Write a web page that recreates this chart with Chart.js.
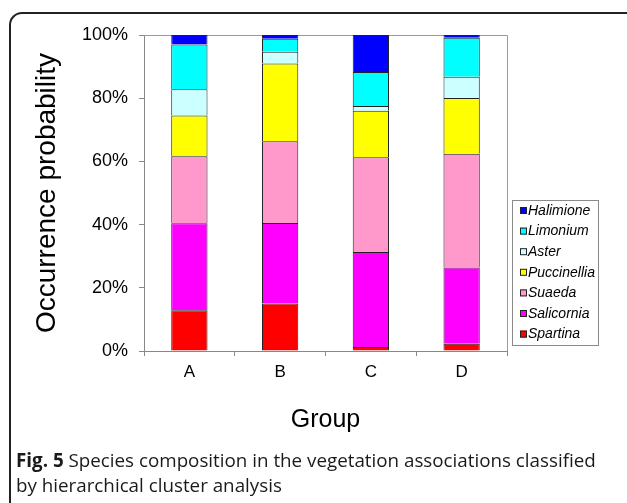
<!DOCTYPE html>
<html>
<head>
<meta charset="utf-8">
<script src="https://cdn.jsdelivr.net/npm/chart.js@4/dist/chart.umd.min.js"></script>
<style>
  html, body { margin: 0; padding: 0; background: #fff; }
  #wrap { position: relative; width: 627px; height: 503px; overflow: hidden; }
  #frame {
    position: absolute; left: 9px; top: 12px; width: 640px; height: 520px;
    border: 2px solid #222; border-radius: 13px; box-sizing: border-box;
  }
  #chart { position: absolute; left: 0; top: 0; }
  #caption {
    position: absolute; left: 16px; top: 448px; width: 596px;
    font-family: 'Open Sans', sans-serif; font-size: 18.8px; line-height: 25px; color: #1a1a1a;
  }
  #caption b { font-weight: 700; }
</style>
</head>
<body>
<div id="wrap">
  <div id="frame"></div>
  <canvas id="chart" width="627" height="503"></canvas>
  <div id="caption"><b>Fig. 5</b> Species composition in the vegetation associations classified by hierarchical cluster analysis</div>
</div>
<script>
// Дані (у відсотках, знизу вгору)
const groups = ['A', 'B', 'C', 'D'];
const species = ['Spartina', 'Salicornia', 'Suaeda', 'Puccinellia', 'Aster', 'Limonium', 'Halimione'];
const spartina    = [12.9, 15.0, 1.3, 2.3];
const salicornia  = [27.5, 25.5, 30.0, 24.1];
const suaeda      = [21.2, 25.9, 30.0, 36.0];
const puccinellia = [12.9, 24.6, 14.7, 17.7];
const aster       = [8.3, 3.7, 1.5, 6.7];
const limonium    = [14.2, 4.1, 10.8, 12.3];
const halimione   = [3.0, 1.2, 11.7, 0.9];
const yTicks = [0, 20, 40, 60, 80, 100];

const seriesValues = [spartina, salicornia, suaeda, puccinellia, aster, limonium, halimione];
const colors = ['#ff0000', '#ff00ff', '#ff99cc', '#ffff00', '#ccffff', '#00ffff', '#0000ff'];

Chart.defaults.font.family = "'Liberation Sans', Arial, sans-serif";
Chart.defaults.color = '#000';

/**
 * Рамка області графіка і легенда в рамці праворуч
 */
const boxLegend = {
    id: 'boxLegend',
    beforeDatasetsDraw(chart) {
        const ctx = chart.ctx;
        const a = chart.chartArea;
        ctx.save();
        ctx.strokeStyle = '#9a9a9a';
        ctx.lineWidth = 1;
        ctx.beginPath();
        ctx.moveTo(a.left, a.top + 0.5);
        ctx.lineTo(a.right + 0.5, a.top + 0.5);
        ctx.lineTo(a.right + 0.5, a.bottom);
        ctx.stroke();
        ctx.restore();
    },
    afterDraw(chart) {
        const ctx = chart.ctx;
        const x = 512, y = 200, w = 86, h = 145;
        ctx.save();
        ctx.strokeStyle = '#8a8a8a';
        ctx.lineWidth = 1;
        ctx.strokeRect(x + 0.5, y + 0.5, w, h);
        ctx.font = "italic 14px 'Liberation Sans', Arial, sans-serif";
        ctx.textBaseline = 'middle';
        const ds = chart.data.datasets.slice().reverse();
        ds.forEach((d, i) => {
            const cy = 210.5 + i * 20.6;
            ctx.fillStyle = d.backgroundColor;
            ctx.fillRect(520, cy - 3.5, 7, 7);
            ctx.strokeStyle = '#222';
            ctx.strokeRect(520.5, cy - 3, 6, 6);
            ctx.fillStyle = '#000';
            ctx.fillText(d.label, 528, cy + 0.5);
        });
        ctx.restore();
    }
};

function initChart() {
    const ctx = document.getElementById('chart').getContext('2d');
    new Chart(ctx, {
        type: 'bar',
        data: {
            labels: groups,
            datasets: species.map((s, i) => ({
                label: s,
                data: seriesValues[i],
                backgroundColor: colors[i],
                borderColor: '#222',
                borderWidth: 1,
                barPercentage: 0.4,
                categoryPercentage: 1
            }))
        },
        options: {
            responsive: false,
            animation: false,
            layout: { padding: { left: 0, top: 35, right: 120, bottom: 62 } },
            plugins: { legend: { display: false }, tooltip: { enabled: false } },
            scales: {
                x: {
                    stacked: true,
                    ticks: { font: { size: 17 }, padding: 6 },
                    grid: { drawOnChartArea: false, tickLength: 5, color: '#888', offset: true },
                    border: { color: '#888' },
                    title: { display: true, text: 'Group', font: { size: 25 }, padding: { top: 0, bottom: 6 } },
                    afterFit: s => { s.height = 90; }
                },
                y: {
                    stacked: true,
                    min: 0,
                    max: 100,
                    afterBuildTicks: s => { s.ticks = yTicks.map(v => ({ value: v })); },
                    ticks: { font: { size: 18 }, padding: 11, callback: v => v + '%' },
                    grid: { drawOnChartArea: false, tickLength: 5, color: '#888' },
                    border: { color: '#888' },
                    title: { display: true, text: 'Occurrence probability', font: { size: 28 }, padding: { top: 30, bottom: 0 } },
                    afterFit: s => { s.width = 144; }
                }
            }
        },
        plugins: [boxLegend]
    });
}

initChart();
</script>
</body>
</html>
